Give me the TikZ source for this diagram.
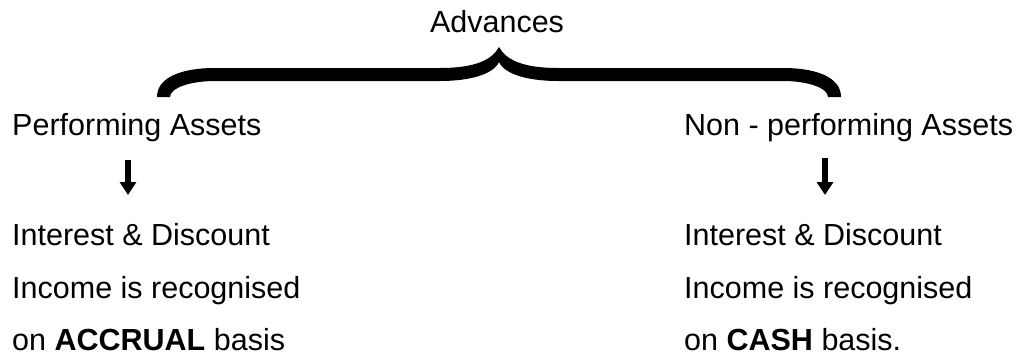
\documentclass[tikz,border=0pt]{standalone}
\usepackage{fontspec}
\setmainfont{Liberation Sans}
\usetikzlibrary{arrows.meta}
\begin{document}
\begin{tikzpicture}[x=1pt,y=-1pt,
  txt/.style={anchor=base west,inner sep=0pt,font=\fontsize{30.5}{36}\selectfont},
  downarrow/.style={line width=5.5pt,-{Triangle[width=16pt,length=13pt]}}]
\useasboundingbox (0,0) rectangle (1019,359);
% title
\node[txt,anchor=base] (adv) at (497,32) {Advances};
% brace
\fill[black] (157,97) .. controls (157,78) and (180,68) .. (215,68)
  -- (440,68) .. controls (475,68) and (492,60) .. (499,47)
  .. controls (506,60) and (523,68) .. (558,68)
  -- (783,68) .. controls (818,68) and (841,78) .. (841,97)
  -- (828,97) .. controls (828,88) and (808,81) .. (783,81)
  -- (558,81) .. controls (530,81) and (505,75) .. (499,62)
  .. controls (493,75) and (468,81) .. (440,81)
  -- (215,81) .. controls (190,81) and (170,88) .. (170,97) -- cycle;
% left column
\node[txt] (pa) at (12,135) {Performing Assets};
\node[txt] (l1) at (12,245) {Interest \& Discount};
\node[txt] (l2) at (12,298) {Income is recognised};
\node[txt] (l3) at (12,350) {on \textbf{ACCRUAL} basis};
% right column
\node[txt] (npa) at (684,135) {Non - performing Assets};
\node[txt] (r1) at (684,245) {Interest \& Discount};
\node[txt] (r2) at (684,298) {Income is recognised};
\node[txt] (r3) at (684,350) {on \textbf{CASH} basis.};
% arrows
\coordinate (la1) at (128,160);
\coordinate (la2) at (128,195);
\coordinate (ra1) at (825,158);
\coordinate (ra2) at (825,195);
\draw[downarrow] (la1) -- (la2);
\draw[downarrow] (ra1) -- (ra2);
\end{tikzpicture}
\end{document}
